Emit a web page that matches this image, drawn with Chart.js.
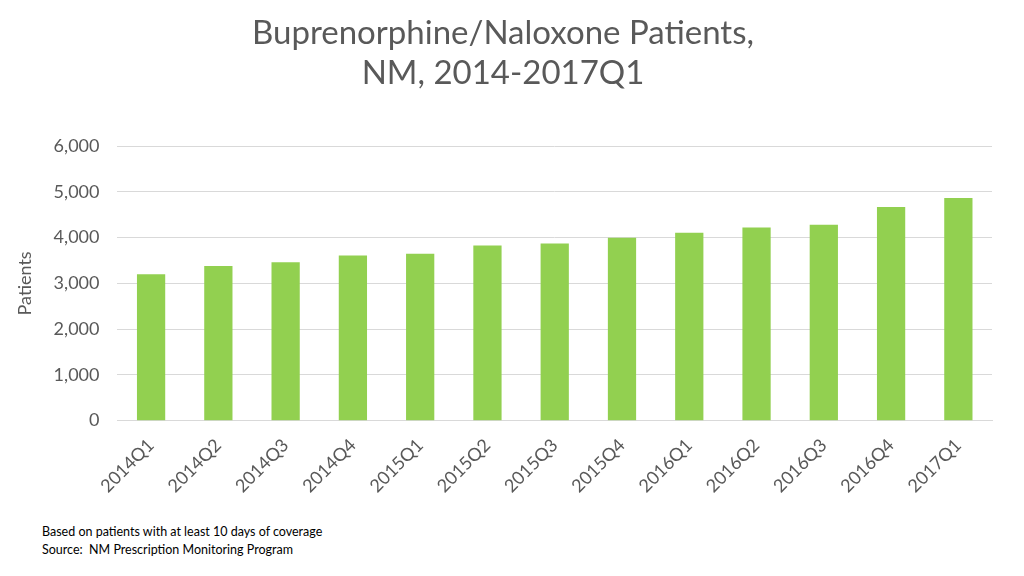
<!DOCTYPE html>
<html><head><meta charset="utf-8">
<script src="https://cdn.jsdelivr.net/npm/chart.js@4/dist/chart.umd.min.js"></script>
<style>
html,body{margin:0;padding:0;background:#fff;}
#wrap{position:relative;width:1024px;height:576px;}
#note{position:absolute;left:42px;top:523px;font-family:Lato,"Open Sans",sans-serif;font-size:12.5px;color:#000;line-height:18px;}
</style></head><body>
<div id="wrap"><canvas id="c" width="1024" height="503" style="width:1024px;height:503px"></canvas>
<div id="note">Based on patients with at least 10 days of coverage<br>Source:&nbsp; NM Prescription Monitoring Program</div></div>
<script>
const categories=["2014Q1","2014Q2","2014Q3","2014Q4","2015Q1","2015Q2","2015Q3","2015Q4","2016Q1","2016Q2","2016Q3","2016Q4","2017Q1"];
const patients=[3200,3380,3460,3610,3650,3830,3870,4000,4110,4220,4280,4670,4870];
const titleLines=["Buprenorphine/Naloxone Patients,","NM, 2014-2017Q1"];
const F='Lato, "Open Sans", sans-serif';
new Chart(document.getElementById('c'),{
 type:'bar',
 data:{labels:categories,datasets:[{data:patients,backgroundColor:'#92d050',barPercentage:0.42,categoryPercentage:1}]},
 options:{responsive:false,animation:false,
  layout:{padding:{left:14,right:32,top:0,bottom:0}},
  plugins:{legend:{display:false},tooltip:{enabled:false},
   title:{display:true,text:titleLines,color:'#595959',font:{family:F,size:33,weight:'normal'},padding:{top:14,bottom:53},lineHeight:1.35}},
  scales:{
   y:{min:0,max:6000,ticks:{stepSize:1000,color:'#595959',font:{family:F,size:18},padding:18,callback:v=>v.toLocaleString('en-US')},
      grid:{color:'#d9d9d9',drawTicks:false},border:{display:false},
      title:{display:true,text:'Patients',color:'#595959',font:{family:F,size:18},padding:0}},
   x:{ticks:{color:'#595959',font:{family:F,size:18},maxRotation:45,minRotation:45,padding:6},
      grid:{display:false},border:{color:'#d9d9d9'}}
  }}
});
</script></body></html>
